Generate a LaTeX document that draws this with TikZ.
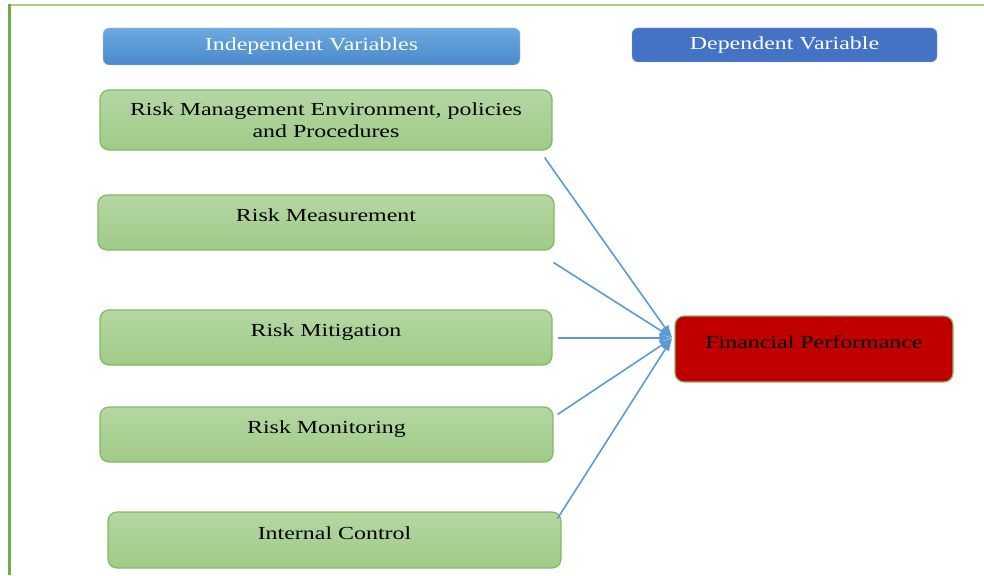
\documentclass[tikz,border=0pt]{standalone}
\usepackage{fontspec}
\setmainfont{Liberation Serif}[FakeStretch=1.3]
\newfontfamily\boxfont{Liberation Serif}[FakeStretch=1.3]
\usepackage{tikz}
\usetikzlibrary{calc}
\usetikzlibrary{shapes,arrows,arrows.meta}
\definecolor{framegreen}{HTML}{70AD47}
\definecolor{toplinegreen}{HTML}{A9D18E}
\definecolor{boxtop}{HTML}{B5D7A3}
\definecolor{boxbottom}{HTML}{9FCB87}
\definecolor{boxedge}{HTML}{82BA62}
\definecolor{headtop}{HTML}{6CA9E0}
\definecolor{headbottom}{HTML}{4A89CA}
\definecolor{deephead}{HTML}{4472C4}
\definecolor{perfred}{HTML}{C00000}
\definecolor{arrowblue}{HTML}{5B9BD5}

\begin{document}
\begin{tikzpicture}[x=1pt,y=-1pt]
		\tikzstyle{every node}=[font=\boxfont\fontsize{18.4}{22}\selectfont]
		\tikzstyle{varbox}=[draw=boxedge,line width=1.2pt,rounded corners=9pt,top color=boxtop,bottom color=boxbottom,inner sep=0pt]
		\tikzstyle{lowtext}=[text height=13pt,text depth=15pt]
		\tikzstyle{headbox}=[rounded corners=6pt,text=white,inner sep=0pt]
		\tikzstyle{link}=[draw=arrowblue,line width=1.6pt,-{Latex[length=13pt,width=9pt]}]
		
		\useasboundingbox (0,0) rectangle (984,575);
		
		% frame on the left and top
		\draw [toplinegreen, line width=2.2pt] (8,5) -- (984,5);
		\draw [framegreen, line width=3pt] (9,4) -- (9,575);
		
		% column headings
		\node [headbox,top color=headtop,bottom color=headbottom,draw=headtop!60,minimum width=417pt,minimum height=37pt] (indep) at (311.5,46.5) {Independent Variables};
		\node [headbox,fill=deephead,draw=deephead!70,minimum width=305pt,minimum height=34pt] (dep) at (784.5,45) {Dependent Variable};
		
		% independent variables
		\node [varbox,align=center,minimum width=452pt,minimum height=60pt] (mgmt) at (326,120) {Risk Management Environment, policies\\and Procedures};
		\node [varbox,lowtext,minimum width=456pt,minimum height=55pt] (meas) at (326,222.5) {Risk Measurement};
		\node [varbox,lowtext,minimum width=452pt,minimum height=55pt] (mitig) at (326,337.5) {Risk Mitigation};
		\node [varbox,lowtext,minimum width=453pt,minimum height=55pt] (monit) at (326.5,434.5) {Risk Monitoring};
		\node [varbox,lowtext,minimum width=453pt,minimum height=56pt] (intctrl) at (334.5,540) {Internal Control};
		
		% dependent variable
		\node [varbox,lowtext,top color=perfred,bottom color=perfred,minimum width=278pt,minimum height=66pt] (perf) at (814,349) {Financial Performance};
		
		% arrows meet just above the middle of the left side
		\coordinate (hub) at ([xshift=-2pt,yshift=11pt]perf.west);
		\coordinate (s1) at ([xshift=-8pt,yshift=-7pt]mgmt.south east);
		\coordinate (s2) at ([xshift=-1pt,yshift=-12pt]meas.south east);
		\coordinate (s3) at ([xshift=5pt,yshift=-0.5pt]mitig.east);
		\coordinate (s4) at ([xshift=4pt,yshift=-8pt]monit.north east);
		\coordinate (s5) at ([xshift=-4pt,yshift=-7pt]intctrl.north east);
		
		\foreach \s in {s1,s2,s3,s4,s5}
		\draw [link] (\s) -- (hub);
		
\end{tikzpicture}
\end{document}
